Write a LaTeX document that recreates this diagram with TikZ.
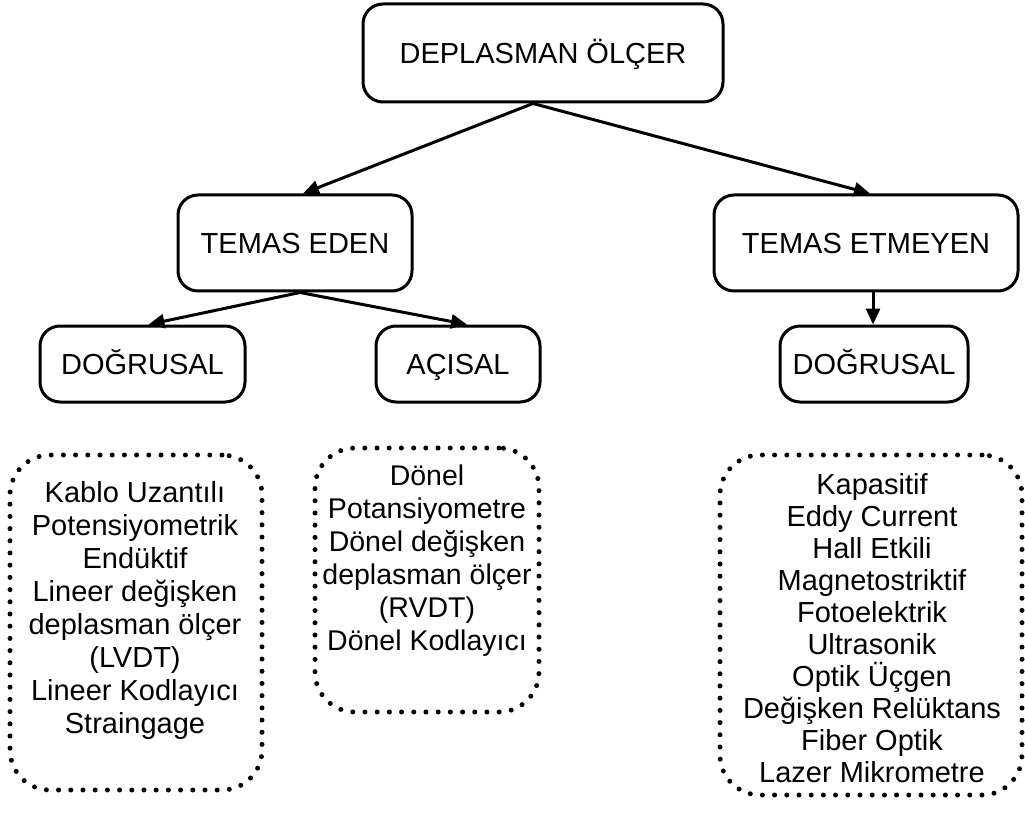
\documentclass[tikz,border=0pt]{standalone}
\usepackage{fontspec}
\setmainfont{Liberation Sans}
\usetikzlibrary{arrows.meta,calc}
\begin{document}
\begin{tikzpicture}[x=1pt,y=-1pt,
  box/.style={draw,line width=3pt,rounded corners=20pt,inner sep=0pt,
    text height=20.8pt,text depth=0pt,font=\fontsize{29}{33}\selectfont},
  dotbox/.style={draw,line width=5pt,line cap=round,dash pattern=on 0pt off 12.2pt,
    rounded corners=40pt,inner sep=0pt},
  list/.style={align=center,inner sep=0pt,font=\fontsize{29}{33}\selectfont},
  arr/.style={line width=3pt,-{Triangle[length=16pt,width=14pt]}}]
\useasboundingbox (0,0) rectangle (1025,818);

% level boxes
\node[box,minimum width=360pt,minimum height=98pt] (top) at (543,53) {DEPLASMAN ÖLÇER};
\node[box,minimum width=234pt,minimum height=96pt] (eden) at (295,243) {TEMAS EDEN};
\node[box,minimum width=304pt,minimum height=96pt] (etmeyen) at (866,243) {TEMAS ETMEYEN};
\node[box,minimum width=205pt,minimum height=76pt] (dogl) at (142.5,364) {DOĞRUSAL};
\node[box,minimum width=164pt,minimum height=76pt] (aci) at (458,364) {AÇISAL};
\node[box,minimum width=188pt,minimum height=76pt] (dogr) at (874,364) {DOĞRUSAL};

% dotted groups
\node[dotbox,minimum width=252pt,minimum height=335pt] (gl) at (136,622.5) {};
\node[dotbox,minimum width=224pt,minimum height=264pt] (gm) at (427,580) {};
\node[dotbox,minimum width=302pt,minimum height=340pt] (gr) at (871,625) {};

\node[list] (tl) at (135,610) {Kablo Uzantılı\\Potensiyometrik\\Endüktif\\Lineer değişken\\deplasman ölçer\\(LVDT)\\Lineer Kodlayıcı\\Straingage};
\node[list,font=\fontsize{28.5}{33}\selectfont] (tm) at (427,561) {Dönel\\Potansiyometre\\Dönel değişken\\deplasman ölçer\\(RVDT)\\Dönel Kodlayıcı};
\node[list,font=\fontsize{29}{32}\selectfont] (tr) at (872,628) {Kapasitif\\Eddy Current\\Hall Etkili\\Magnetostriktif\\Fotoelektrik\\Ultrasonik\\Optik Üçgen\\Değişken Relüktans\\Fiber Optik\\Lazer Mikrometre};

% connectors
\draw[arr] ([xshift=-10pt]top.south) -- ([xshift=8pt]eden.north);
\draw[arr] ([xshift=-10pt]top.south) -- ([xshift=4pt]etmeyen.north);
\draw[arr] ([xshift=5pt]eden.south) -- ([xshift=6pt]dogl.north);
\draw[arr] ([xshift=5pt]eden.south) -- ([xshift=9pt]aci.north);
\draw[arr] ([xshift=7pt]etmeyen.south) -- ([xshift=-1pt]dogr.north);
\end{tikzpicture}
\end{document}
